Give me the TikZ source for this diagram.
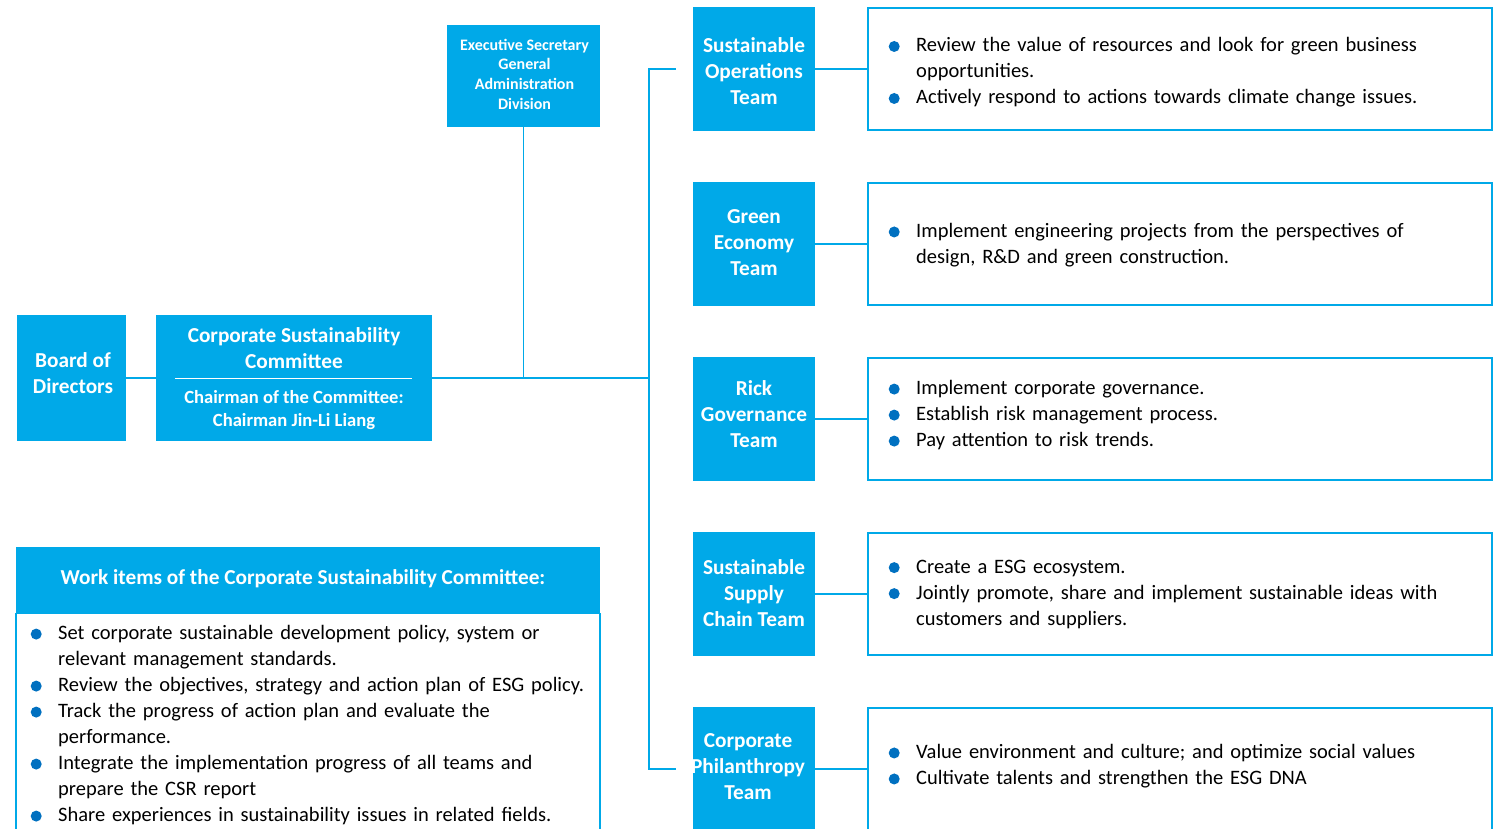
\documentclass[tikz,border=0pt]{standalone}
\usepackage{fontspec}
\setmainfont{Carlito}
\definecolor{cy}{RGB}{0,169,232}
\definecolor{bd}{RGB}{0,112,192}
\newcommand{\bdot}{\tikz[baseline=-0.55ex]\fill[bd] (0,0) circle (5.5pt);}
\newcommand{\itm}[1]{\noindent\hangindent=28pt\hangafter=1\makebox[28pt][l]{\hspace{0.5pt}\bdot}#1\par}
\tikzset{
  box/.style={fill=cy, draw=none, text=white, align=center, inner sep=0pt, font=\bfseries\fontsize{21.3}{26}\selectfont},
  lbl/.style={text=white, align=center, inner sep=0pt, font=\bfseries\fontsize{21.3}{26}\selectfont},
  team/.style={box, minimum width=122, minimum height=124},
  descbox/.style={draw=cy, line width=1.2pt, minimum width=624, minimum height=122, inner sep=0pt},
  desctext/.style={anchor=west, text width=600, inner sep=0pt, align=left, font=\fontsize{20.5}{26}\selectfont},
  conn/.style={draw=cy, line width=1.2pt},
}
\begin{document}
\begin{tikzpicture}[x=1pt,y=-1pt]
\useasboundingbox (0,0) rectangle (1495,829);
% left side
\node[box, minimum width=109, minimum height=126] (board) at (71.5,378) {};
\node[lbl] (boardt) at (73,373) {Board of\\Directors};
\node[box, minimum width=276, minimum height=126] (csc) at (294,378) {};
\node[lbl] (csct) at (294,348) {Corporate Sustainability\\Committee};
\node[lbl, font=\bfseries\fontsize{18.6}{23}\selectfont] (cscc) at (294,410.5) {Chairman of the Committee:\\Chairman Jin-Li Liang};
\draw[white, line width=1pt] ([xshift=19]csc.west) -- ([xshift=-20]csc.east);
\node[box, minimum width=153, minimum height=102] (exec) at (523.5,76) {};
\node[lbl, font=\bfseries\fontsize{16}{19.7}\selectfont] (exect) at (524.5,74) {Executive Secretary\\General\\Administration\\Division};
\coordinate (trunk) at (649,378);
% teams
\node[team] (t1) at (754,69) {};
\node[team] (t2) at (754,244) {};
\node[team] (t3) at (754,419) {};
\node[team] (t4) at (754,594) {};
\node[team] (t5) at (754,769) {};
\node[lbl] (t1t) at (754,71.5) {Sustainable\\Operations\\Team};
\node[lbl] (t2t) at (754,243) {Green\\Economy\\Team};
\node[lbl] (t3t) at (754,414) {Rick\\Governance\\Team};
\node[lbl] (t4t) at (754,593) {Sustainable\\Supply\\Chain Team};
\node[lbl] (t5t) at (748,766.5) {Corporate\\Philanthropy\\Team};
% description boxes
\node[descbox] (d1) at (1180,69) {};
\node[descbox] (d2) at (1180,244) {};
\node[descbox] (d3) at (1180,419) {};
\node[descbox] (d4) at (1180,594) {};
\node[descbox] (d5) at (1180,769) {};
\node[desctext] (d1t) at (888,72.5) {\raggedright\itm{Review the value of resources and look for green business\newline opportunities.}\itm{Actively respond to actions towards climate change issues.}};
\node[desctext] (d2t) at (888,245) {\raggedright\itm{Implement engineering projects from the perspectives of\newline design, R\&D and green construction.}};
\node[desctext] (d3t) at (888,415) {\raggedright\itm{Implement corporate governance.}\itm{Establish risk management process.}\itm{Pay attention to risk trends.}};
\node[desctext] (d4t) at (888,594) {\raggedright\itm{Create a ESG ecosystem.}\itm{Jointly promote, share and implement sustainable ideas with\newline customers and suppliers.}};
\node[desctext] (d5t) at (888,766) {\raggedright\itm{Value environment and culture; and optimize social values}\itm{Cultivate talents and strengthen the ESG DNA}};
% work items
\node[box, minimum width=584, minimum height=66] (wh) at (308,580) {};
\node[lbl] (wht) at (303,579) {Work items of the Corporate Sustainability Committee:};
\node[draw=cy, line width=1.2pt, minimum width=584, minimum height=230, inner sep=0pt, anchor=north] (wb) at (wh.south) {};
\node[desctext, text width=570] (wt) at (30,725) {\raggedright\itm{Set corporate sustainable development policy, system or\newline relevant management standards.}\itm{Review the objectives, strategy and action plan of ESG policy.}\itm{Track the progress of action plan and evaluate the\newline performance.}\itm{Integrate the implementation progress of all teams and\newline prepare the CSR report}\itm{Share experiences in sustainability issues in related fields.}};
% connectors
\draw[conn] (board.east) -- (csc.west);
\draw[conn] (csc.east) -- (trunk);
\draw[conn] (exec.south) -- (exec.south |- trunk);
\draw[conn, shorten <=17pt, shorten >=17pt] (t1.west) -| (trunk) |- (t5.west);
\draw[conn] (t1.east) -- (d1.west);
\draw[conn] (t2.east) -- (d2.west);
\draw[conn] (t3.east) -- (d3.west);
\draw[conn] (t4.east) -- (d4.west);
\draw[conn] (t5.east) -- (d5.west);
\end{tikzpicture}
\end{document}
